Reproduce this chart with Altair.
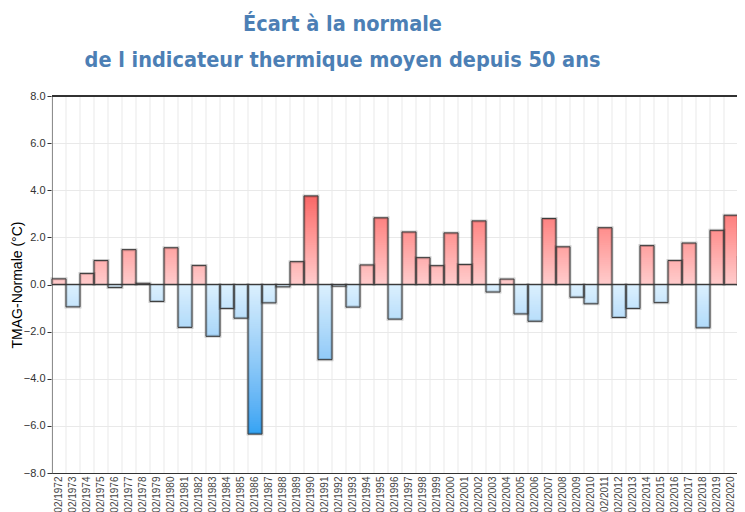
import altair as alt
import pandas as pd
import numpy as np

years = list(range(1972, 2022))
labels = [f"02/{y}" for y in years]
values = [0.24, -0.95, 0.47, 1.02, -0.13, 1.48, 0.05, -0.72, 1.56, -1.82,
          0.81, -2.20, -1.02, -1.43, -6.35, -0.78, -0.10, 0.97, 3.76, -3.19,
          -0.07, -0.96, 0.83, 2.83, -1.47, 2.23, 1.14, 0.80, 2.19, 0.85,
          2.70, -0.32, 0.23, -1.25, -1.56, 2.80, 1.60, -0.54, -0.82, 2.41,
          -1.40, -1.02, 1.65, -0.77, 1.02, 1.76, -1.84, 2.30, 2.94, 1.15]

y_ticks = [-8, -6, -4, -2, 0, 2, 4, 6, 8]
title_lines = ["Écart à la normale", "de l indicateur thermique moyen depuis 50 ans"]
y_title = "TMAG-Normale (°C)"

df = pd.DataFrame({"label": labels, "value": values})

# gradient slices (drawn from the longest to the shortest so no seams show)
step = 0.08
rows = []
for lab, v in zip(labels, values):
    s = 1 if v >= 0 else -1
    n = int(np.ceil(abs(v) / step))
    for k in range(n, 0, -1):
        hi = s * min(k * step, abs(v))
        mid = s * (k - 0.5) * step
        rows.append({"label": lab, "value": hi, "mid": mid})
seg = pd.DataFrame(rows)

W, H = 685, 377       # visible plot area; the band range runs past the right edge
RANGE_W = 700
font = "Liberation Sans"

xscale = alt.Scale(paddingInner=0, paddingOuter=0, range=[0, RANGE_W])
xenc = alt.X("label:N", sort=labels, scale=xscale,
             axis=alt.Axis(title=None, labelAngle=-90, ticks=False, grid=False,
                           labelFont=font, labelFontSize=10, labelColor="#444",
                           labelPadding=3, domainColor="#333"))
yscale = alt.Scale(domain=[-8, 8], nice=False, zero=False)
yaxis = alt.Axis(values=y_ticks, format=".1f", title=y_title,
                 grid=True, gridColor="#e9e9e9",
                 labelFont=font, labelFontSize=11, labelColor="#333",
                 labelPadding=2, tickSize=5, tickColor="#333",
                 domainColor="#333", titleFont=font, titleFontSize=14,
                 titleFontWeight="normal", titleColor="#000",
                 titleX=-28, titleY=H / 2, titleAngle=270,
                 titleAlign="center", titleBaseline="bottom")
yenc = alt.Y("value:Q", scale=yscale, axis=yaxis, title=y_title)

vgrid = alt.Chart(df).mark_rule(color="#e9e9e9", strokeWidth=1).encode(
    x=alt.X("label:N", sort=labels, bandPosition=0),
    y=alt.value(0), y2=alt.value(H))

segs = alt.Chart(seg).mark_bar(strokeWidth=0).encode(
    x=xenc,
    y=yenc,
    y2=alt.datum(0),
    color=alt.Color("mid:Q", legend=None,
                    scale=alt.Scale(domain=[-6.4, -0.0001, 0.0001, 3.8],
                                    range=["#2fa3f3", "#dcf0fe", "#ffcccc", "#f86666"])))

shadow = alt.Chart(df).mark_bar(fill="transparent", stroke="#000", strokeOpacity=0.18,
                                strokeWidth=3).encode(
    x=alt.X("label:N", sort=labels),
    y=yenc,
    y2=alt.datum(0))

outline = alt.Chart(df).mark_bar(fill="transparent", stroke="#3a3a3a",
                                 strokeWidth=1).encode(
    x=alt.X("label:N", sort=labels),
    y=yenc,
    y2=alt.datum(0))

zero = alt.Chart(df).mark_rule(color="#9a9a9a", strokeWidth=1).encode(
    y=alt.datum(0))

top = alt.Chart(df).mark_rule(color="#333", strokeWidth=1).encode(
    y=alt.datum(8))

chart = alt.layer(vgrid, segs, shadow, zero, outline, top).properties(
    width=W, height=H,
    autosize=alt.AutoSizeParams(type="none"),
    padding={"left": 44, "top": 88, "right": 0, "bottom": 41},
    title=alt.Title(title_lines, font="DejaVu Sans Condensed, DejaVu Sans", fontSize=21.5,
                    fontWeight="bold", color="#4c7fb5", anchor="middle",
                    dx=-52, lineHeight=36, offset=19),
).configure_view(strokeWidth=0)

chart.save("out.html", embed_options={"renderer": "svg", "actions": False})
